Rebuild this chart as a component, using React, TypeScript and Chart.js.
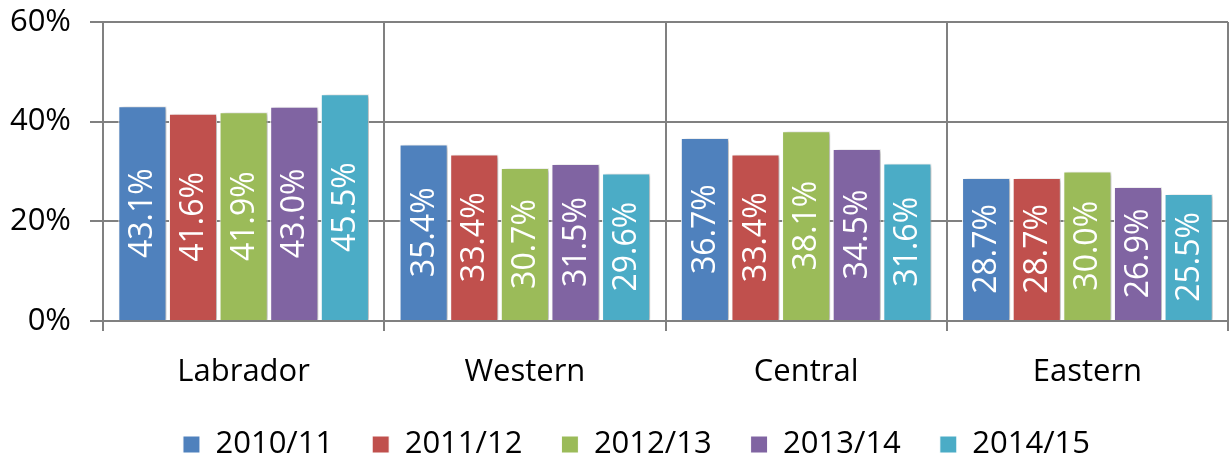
import React, { useEffect, useRef } from "react";
import { Chart, registerables } from "chart.js";

Chart.register(...registerables);

const categories = ["Labrador", "Western", "Central", "Eastern"];
const seriesNames = ["2010/11", "2011/12", "2012/13", "2013/14", "2014/15"];
const s2010 = [43.1, 35.4, 36.7, 28.7];
const s2011 = [41.6, 33.4, 33.4, 28.7];
const s2012 = [41.9, 30.7, 38.1, 30.0];
const s2013 = [43.0, 31.5, 34.5, 26.9];
const s2014 = [45.5, 29.6, 31.6, 25.5];
const seriesValues = [s2010, s2011, s2012, s2013, s2014];
const colors = ["#4F81BD", "#C0504D", "#9BBB59", "#8064A2", "#4BACC6"];
const yTicks = [0, 20, 40, 60];

const FONT = "'Open Sans', 'DejaVu Sans', sans-serif";
const GRID = "#808080";

const legendHeightFix = {
  id: "legendHeightFix",
  afterInit(chart: any) {
    const legend = chart.legend;
    if (!legend || legend.__patched) return;
    const orig = legend.fit;
    legend.fit = function () {
      orig.call(this);
      this.height = 71;
      if (this.lineWidths) this.lineWidths = this.lineWidths.map((w: number) => w - 36);
    };
    legend.__patched = true;
  },
};

const shadowAndLabels = {
  id: "shadowAndLabels",
  beforeDatasetsDraw(chart: any) {
    const ctx = chart.ctx;
    ctx.save();
    ctx.shadowColor = "rgba(0,0,0,0.28)";
    ctx.shadowBlur = 4;
    ctx.shadowOffsetX = 3;
    ctx.shadowOffsetY = 1;
  },
  afterDatasetsDraw(chart: any) {
    const ctx = chart.ctx;
    ctx.restore();
    ctx.save();
    ctx.fillStyle = "#ffffff";
    ctx.font = `32px ${FONT}`;
    ctx.textAlign = "center";
    ctx.textBaseline = "middle";
    chart.data.datasets.forEach((ds: any, di: number) => {
      const meta = chart.getDatasetMeta(di);
      meta.data.forEach((bar: any, i: number) => {
        const v = ds.data[i];
        const cy = (bar.y + bar.base) / 2;
        ctx.save();
        ctx.translate(bar.x, cy);
        ctx.rotate(-Math.PI / 2);
        ctx.fillText(v.toFixed(1) + "%", 0, 1);
        ctx.restore();
      });
    });
    ctx.restore();
  },
};

export default function App() {
  const ref = useRef<HTMLCanvasElement>(null);
  useEffect(() => {
    if (!ref.current) return;
    const chart = new Chart(ref.current, {
      type: "bar",
      data: {
        labels: categories,
        datasets: seriesNames.map((name, i) => ({
          label: name,
          data: seriesValues[i],
          backgroundColor: colors[i],
          borderColor: "#ffffff",
          borderWidth: 1,
          categoryPercentage: 0.9,
          barPercentage: 0.95,
        })),
      },
      options: {
        animation: false,
        responsive: true,
        maintainAspectRatio: false,
        layout: { padding: { top: 0, right: 2, left: 9, bottom: 0 } },
        plugins: {
          tooltip: { enabled: false },
          legend: {
            position: "bottom",
            labels: {
              boxWidth: 17,
              boxHeight: 17,
              padding: 39,
              color: "#000",
              font: { family: FONT, size: 31, lineHeight: 1 },
            },
          },
        },
        scales: {
          x: {
            afterFit(scale: any) {
              scale.height = 69;
            },
            grid: {
              display: true,
              offset: true,
              color: GRID,
              lineWidth: 2,
              tickLength: 10,
            },
            border: { display: true, color: GRID, width: 2 },
            ticks: {
              color: "#000",
              font: { family: FONT, size: 31, lineHeight: 1 },
              padding: 26,
            },
          },
          y: {
            min: 0,
            max: 60,
            afterBuildTicks(scale: any) {
              scale.ticks = yTicks.map((v) => ({ value: v }));
            },
            afterFit(scale: any) {
              scale.width = 94;
              scale.paddingTop = 22;
              scale.paddingBottom = 0;
            },
            grid: { color: GRID, lineWidth: 2, tickLength: 13 },
            border: { display: true, color: GRID, width: 2 },
            ticks: {
              color: "#000",
              font: { family: FONT, size: 31 },
              padding: 19,
              callback: (v: any) => v + "%",
            },
          },
        },
      },
      plugins: [legendHeightFix, shadowAndLabels],
    });
    return () => chart.destroy();
  }, []);
  return (
    <div style={{ position: "fixed", left: 0, top: 0, width: 1230, height: 461 }}>
      <canvas ref={ref} />
    </div>
  );
}
